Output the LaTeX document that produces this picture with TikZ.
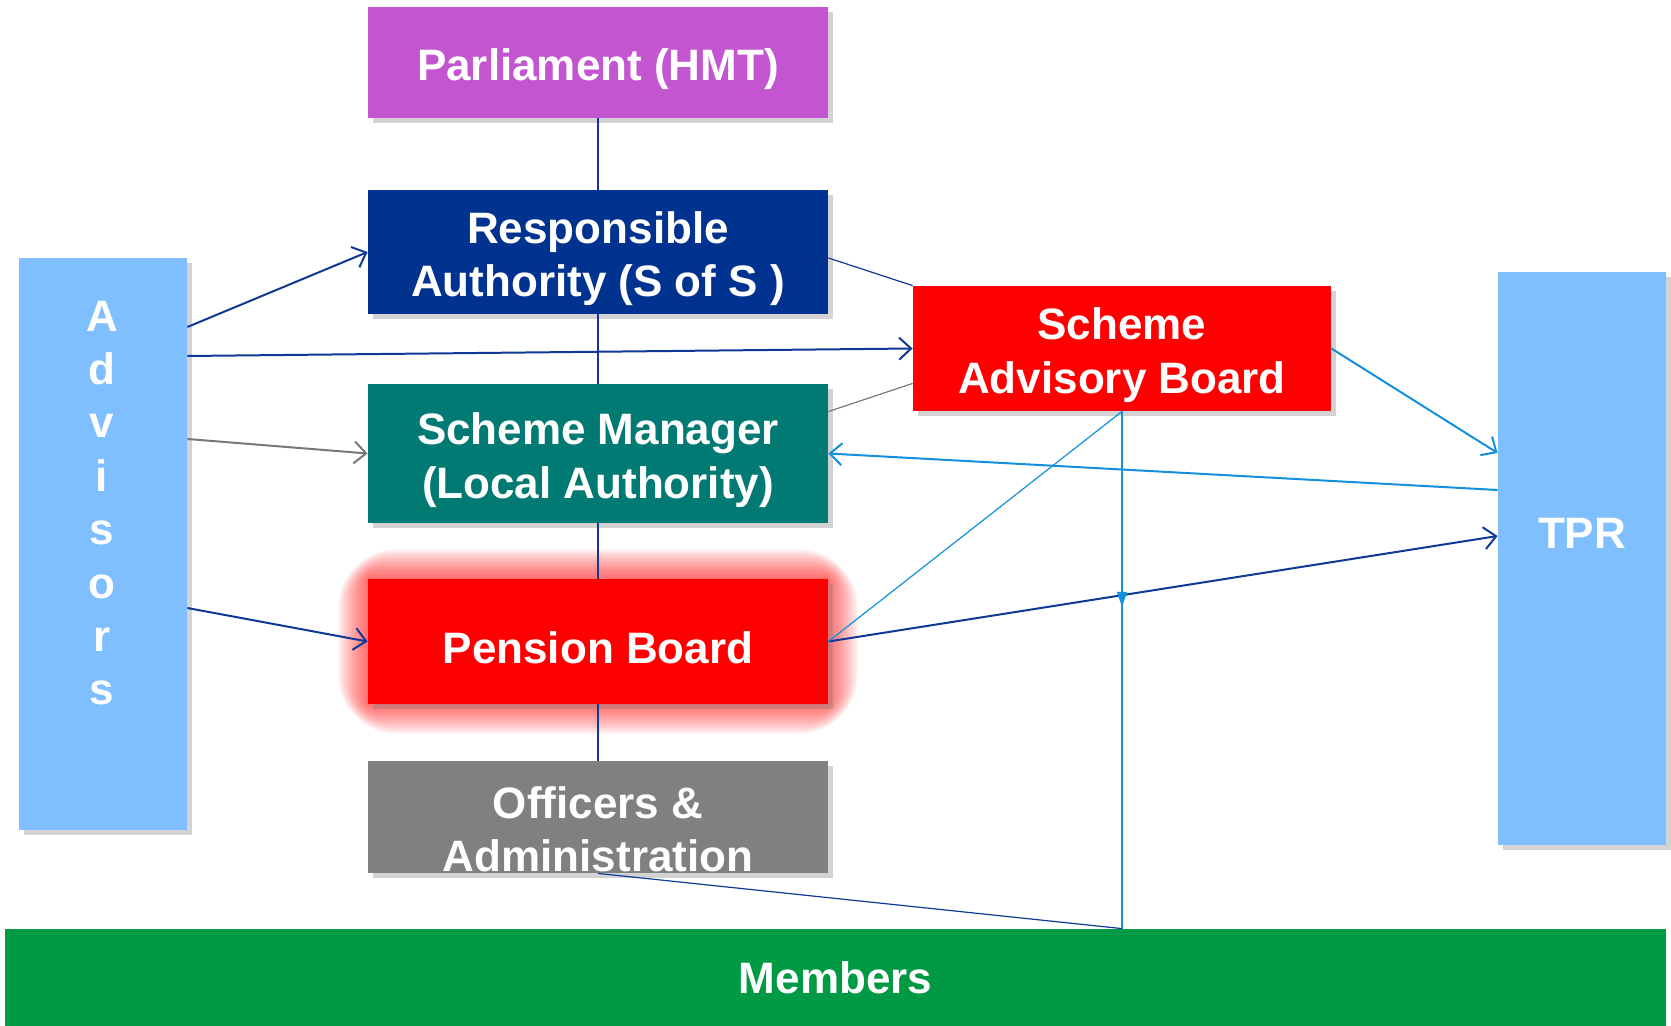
\documentclass[tikz,border=0pt]{standalone}
\usepackage{fontspec}
\setmainfont{Liberation Sans}
\usetikzlibrary{arrows.meta,shadows,decorations.markings}

\definecolor{parlpurple}{RGB}{195,85,208}
\definecolor{authblue}{RGB}{0,50,143}
\definecolor{mgrteal}{RGB}{0,122,114}
\definecolor{boardred}{RGB}{255,0,0}
\definecolor{offgray}{RGB}{128,128,128}
\definecolor{memgreen}{RGB}{0,154,68}
\definecolor{sideblue}{RGB}{128,191,255}
\definecolor{linkdark}{RGB}{16,56,150}
\definecolor{linklight}{RGB}{18,144,222}
\definecolor{linkgray}{RGB}{120,120,120}

% strut that drops the box text a little
\newcommand\boxlift{\rule{0pt}{22.5pt}}

\tikzset{
  boxtext/.style = {inner sep=0pt, text=white, align=center,
    font=\bfseries\fontsize{22}{26.7}\selectfont},
  box/.style = {boxtext, rectangle,
    drop shadow={shadow xshift=2.5pt, shadow yshift=-2.5pt, opacity=0.35}},
  linkdark/.style = {draw=linkdark, line width=1pt, -{Straight Barb[length=6pt,width=11pt]}},
  linklight/.style = {draw=linklight, line width=1pt, -{Straight Barb[length=6pt,width=11pt]}},
  thinlink/.style = {draw=linkdark, line width=0.6pt}
}

\begin{document}
\begin{tikzpicture}[x=0.5pt, y=-0.5pt]
  \useasboundingbox (0,0) rectangle (1671,1026);

  %glow round the pension board
  \foreach \g in {2,4,...,30}
    \fill[boardred, opacity=0.05, rounded corners=\g pt] ({368-\g},{579-\g}) rectangle ({828+\g},{704+\g});

  %boxes of the middle column
  \node[box, fill=parlpurple, minimum width=230pt, minimum height=55.5pt] (parl) at (598,62.5) {\boxlift Parliament (HMT)};
  \node[box, fill=authblue, minimum width=230pt, minimum height=62pt] (ra) at (598,252) {\boxlift Responsible\\Authority (S of S )};
  \node[box, fill=mgrteal, minimum width=230pt, minimum height=69.5pt] (sm) at (598,453.5) {\boxlift Scheme Manager\\(Local Authority)};
  \node[box, fill=boardred, minimum width=230pt, minimum height=62.5pt] (pb) at (598,641.5) {\boxlift Pension Board};
  \node[box, fill=offgray, minimum width=230pt, minimum height=56pt] (off) at (598,817) {};
  \node[boxtext] (offtext) at (598,829) {Officers \&\\Administration};

  %side boxes
  \node[box, fill=sideblue, minimum width=84pt, minimum height=286pt] (adv) at (103,544) {};
  \node[boxtext] (advtext) at (102,503) {A\\d\\v\\i\\s\\o\\r\\s};
  \node[box, fill=sideblue, minimum width=84pt, minimum height=286.5pt] (tpr) at (1582,558.5) {};
  \node[boxtext] (tprtext) at (1582,533) {TPR};
  \node[box, fill=boardred, minimum width=209pt, minimum height=62.5pt] (sab) at (1122,348.5) {\boxlift Scheme\\Advisory Board};
  \node[boxtext, fill=memgreen, minimum width=830.5pt, minimum height=48.5pt] (mem) at (835.5,977.5) {Members};
  \coordinate (drop) at (sab.south |- mem.north);

  %chain down the middle
  \draw[thinlink] (parl.south) -- (ra.north);
  \draw[thinlink] (ra.south) -- (sm.north);
  \draw[thinlink] (sm.south) -- (pb.north);
  \draw[thinlink] (pb.south) -- (off.north);

  %links to the advisory board
  \draw[thinlink] ([yshift=-3pt]ra.east) -- (sab.north west);
  \draw[draw=linkgray, line width=0.6pt] ([yshift=21pt]sm.east) -- ([yshift=-17.5pt]sab.west);

  %advisors
  \draw[linkdark] ([yshift=108.5pt]adv.east) -- (ra.west);
  \draw[linkdark] ([yshift=94pt]adv.east) -- (sab.west);
  \draw[draw=linkgray, line width=1pt, -{Straight Barb[length=6pt,width=11pt]}] ([yshift=52.5pt]adv.east) -- (sm.west);
  \draw[linkdark] ([yshift=-32pt]adv.east) -- (pb.west);

  %the regulator
  \draw[linklight] (sab.east) -- ([yshift=52.75pt]tpr.west);
  \draw[linklight] ([yshift=34.25pt]tpr.west) -- (sm.east);
  \draw[linkdark] (pb.east) -- ([yshift=11.25pt]tpr.west);

  %down to the members
  \draw[draw=linklight, line width=0.6pt] (sab.south) -- (pb.east);
  \draw[draw=linklight, line width=0.8pt, decoration={markings, mark=at position 0.378 with {\arrow{Triangle[length=7.5pt,width=5pt]}}}, postaction=decorate] (sab.south) -- (drop);
  \draw[thinlink] (off.south) -- (drop);
\end{tikzpicture}
\end{document}
